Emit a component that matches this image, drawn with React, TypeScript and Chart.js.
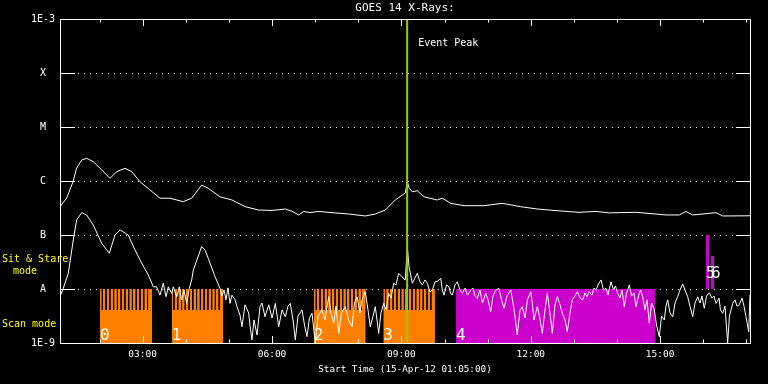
import React, { useEffect, useRef } from 'react';
import { Chart, registerables } from 'chart.js';

Chart.register(...registerables);

const MONO = "'DejaVu Sans Mono', monospace";

// ---- time axis (minutes since 15-Apr-12 01:05:00) ----
const startLabel = '15-Apr-12 01:05:00';
const startMinuteOfDay = 65;
const xMaxMinutes = 960;
const xTickMinutes = [115, 295, 475, 655, 835];

// ---- y axis ----
const yTickValues = [1e-9, 1e-8, 1e-7, 1e-6, 1e-5, 1e-4, 1e-3];
const yTickLabels = ['1E-9', 'A', 'B', 'C', 'M', 'X', '1E-3'];
const gridLevels = [1e-8, 1e-7, 1e-6, 1e-5, 1e-4];

// ---- long channel (1-8 A) ----
const longTimes = [
  0, 9.3, 18.1, 23.2, 30.2, 37.1, 46.3, 58,
  69.6, 78.9, 90.4, 99.8, 111.3, 125.2, 139.1, 153,
  171.5, 183.2, 197.1, 206.3, 222.6, 239.3, 257.8, 276.5,
  295, 313.5, 322.8, 332.1, 339.1, 347.8, 359.9, 378.4,
  401.7, 424.8, 438.7, 452.6, 466.5, 477.2, 480.4, 483.2,
  485.6, 490.2, 497.1, 506.4, 524.9, 531.9, 543.6, 562.1,
  589.9, 615.4, 641, 664.1, 687.3, 722.1, 745.7, 764.2,
  801.4, 843.1, 861.6, 870.9, 880.3, 912.7, 922, 960,
];
const longFlux = [
  3.34e-7, 4.84e-7, 9.7e-7, 1.74e-6, 2.45e-6, 2.63e-6, 2.28e-6, 1.6e-6,
  1.12e-6, 1.49e-6, 1.72e-6, 1.49e-6, 9.7e-7, 6.8e-7, 4.8e-7, 4.8e-7,
  4.14e-7, 4.8e-7, 8.4e-7, 7.3e-7, 5.1e-7, 4.45e-7, 3.34e-7, 2.9e-7,
  2.85e-7, 3.03e-7, 2.75e-7, 2.35e-7, 2.73e-7, 2.6e-7, 2.73e-7, 2.59e-7,
  2.45e-7, 2.25e-7, 2.45e-7, 2.9e-7, 4.45e-7, 5.6e-7, 6.0e-7, 9.7e-7,
  7.5e-7, 6.3e-7, 6.6e-7, 5.1e-7, 4.45e-7, 4.8e-7, 3.86e-7, 3.49e-7,
  3.49e-7, 3.86e-7, 3.34e-7, 3.03e-7, 2.85e-7, 2.63e-7, 2.73e-7, 2.57e-7,
  2.63e-7, 2.35e-7, 2.35e-7, 2.73e-7, 2.35e-7, 2.59e-7, 2.25e-7, 2.27e-7,
];

// ---- short channel (0.5-4 A) ----
const shortTimes = [
  0, 4.6, 11.5, 18.5, 23.2, 30.2, 37.1, 46.3, 58, 68.6,
  76.5, 83.5, 95, 104.3, 113.7, 122.9, 129.8, 134.5, 139.1, 143.7,
  147.5, 150.7, 155.4, 157.6, 162.4, 166, 169.3, 172.5, 176.3, 179.9,
  183.2, 185.5, 197.1, 201.7, 206.3, 215.7, 222.6, 225.4, 228.2, 230.9,
  233.7, 236.5, 239.3, 243.5, 246.3, 250.4, 253.2, 257.4, 262.5, 264.3,
  267.1, 269.9, 274.1, 278.3, 281, 285.2, 290.4, 295, 299.6, 304.3,
  308.9, 313.5, 317.2, 320.4, 324.2, 327.4, 331.1, 336.7, 340.2, 343.6,
  347.1, 350.6, 355.2, 359, 364.5, 368.7, 373.8, 377, 380.8, 384,
  387.8, 391.6, 396.9, 401.4, 406.3, 409.7, 413.2, 417.4, 420.2, 424.8,
  428.5, 431.7, 435.5, 438.7, 443.4, 446.6, 450.4, 453.6, 457.3, 460.5,
  464.3, 467.5, 471.2, 475.8, 480.4, 483.2, 485.6, 490.2, 493.9, 497.1,
  500.9, 504.1, 507.8, 511, 514.8, 518, 521.7, 525.9, 529.7, 531.9,
  534.3, 537.7, 541.2, 543.3, 545.8, 549.6, 552.8, 556.5, 559.7, 563.5,
  567, 571.4, 574.6, 577.4, 580.6, 584.3, 587.8, 592.3, 595.5, 599.2,
  602.4, 606.6, 610.8, 614.2, 617.7, 621.9, 627.1, 630.3, 633, 636.2,
  640, 643.2, 646.9, 650.4, 654.9, 657.1, 659.5, 664.1, 667.1, 671,
  674.8, 678, 681.7, 685, 688.7, 691.9, 695.7, 698.9, 702.6, 705.8,
  709.6, 712.8, 716.5, 719.7, 723.5, 727.2, 730.4, 733.2, 736.4, 740.1,
  742.9, 745.7, 749.2, 752.7, 756.2, 759.7, 762.4, 766.6, 770.1, 772.8,
  775.9, 779.1, 781.9, 785.1, 788.2, 792.1, 795.2, 798.6, 801.4, 804.9,
  807.6, 810.7, 813.9, 816.7, 819.9, 823, 826.9, 829.9, 833.8, 836.9,
  840.8, 843.1, 845.5, 848.7, 852.5, 855.7, 859.4, 862.6, 866.4, 869.6,
  873.3, 876.5, 880.3, 883.5, 887.2, 890.4, 893.2, 896.4, 899.5, 903.4,
  907.1, 909.9, 912.7, 916.9, 918.9, 922, 925.2, 928.9, 931.4, 935.9,
  939.1, 941.9, 945.1, 948.9, 951.7, 954.4, 958.2, 960,
];
const shortFlux = [
  7.2e-9, 1.03e-8, 1.95e-8, 8.1e-8, 1.9e-7, 2.59e-7, 2.35e-7, 1.53e-7, 7.0e-8, 4.6e-8,
  1.0e-7, 1.24e-7, 1.0e-7, 5.3e-8, 3.0e-8, 1.82e-8, 1.1e-8, 1.1e-8, 7.7e-9, 1.28e-8,
  7.2e-9, 1.1e-8, 8.3e-9, 1.1e-8, 7.2e-9, 1.1e-8, 6.3e-9, 9.6e-9, 5.4e-9, 1.03e-8,
  1.47e-8, 2.25e-8, 6.1e-8, 5.3e-8, 3.7e-8, 1.69e-8, 1.03e-8, 7.4e-9, 9.6e-9, 6.3e-9,
  1.05e-8, 5.4e-9, 7.7e-9, 6.3e-9, 4.7e-9, 3.3e-9, 2.0e-9, 5.1e-9, 3.6e-9, 2.15e-9,
  1.14e-9, 2.67e-9, 1.41e-9, 4.7e-9, 5.5e-9, 3.07e-9, 5.1e-9, 2.9e-9, 5.4e-9, 2.0e-9,
  4.1e-9, 3.07e-9, 4.8e-9, 5.4e-9, 2.67e-9, 1.14e-9, 3.15e-9, 4.1e-9, 2.15e-9, 1.31e-9,
  2.9e-9, 3.55e-9, 1e-9, 3.15e-9, 4.1e-9, 2.67e-9, 7.2e-9, 3.6e-9, 2.32e-9, 4.8e-9,
  1.51e-9, 3.6e-9, 4.7e-9, 2.67e-9, 2.0e-9, 5.5e-9, 7.2e-9, 3.6e-9, 6.3e-9, 8.9e-9,
  4.1e-9, 2.0e-9, 3.15e-9, 4.7e-9, 1.51e-9, 3.6e-9, 5.4e-9, 4.1e-9, 8.3e-9, 6.8e-9,
  1.28e-8, 1.19e-8, 1.95e-8, 1.69e-8, 1.47e-8, 6.1e-8, 2.59e-8, 1.28e-8, 1.6e-8, 1.95e-8,
  1.35e-8, 1.19e-8, 1.47e-8, 1.28e-8, 8.8e-9, 9.6e-9, 1.35e-8, 1.4e-8, 1.58e-8, 9.6e-9,
  7.7e-9, 1.19e-8, 1.1e-8, 8.4e-9, 7.7e-9, 1.19e-8, 1.36e-8, 9.6e-9, 8.3e-9, 1.04e-8,
  7.7e-9, 9.6e-9, 1.04e-8, 7.4e-9, 6.7e-9, 9.6e-9, 5.5e-9, 8.3e-9, 6.3e-9, 3.8e-9,
  7.4e-9, 9.6e-9, 1.03e-8, 6.3e-9, 4.4e-9, 7.4e-9, 9.6e-9, 5.5e-9, 3.15e-9, 1.41e-9,
  4.1e-9, 4.7e-9, 2.9e-9, 6.3e-9, 8.9e-9, 5.5e-9, 2.67e-9, 4.7e-9, 3.15e-9, 1.51e-9,
  4.1e-9, 8.3e-9, 3.6e-9, 1.51e-9, 5.1e-9, 7.2e-9, 5.1e-9, 3.55e-9, 2.67e-9, 1.62e-9,
  3.6e-9, 6.3e-9, 7.4e-9, 8.9e-9, 6.8e-9, 6.3e-9, 8.4e-9, 7.2e-9, 8.9e-9, 7.7e-9,
  1.04e-8, 9.6e-9, 1.24e-8, 1.47e-8, 9.6e-9, 1.03e-8, 7.7e-9, 1.36e-8, 9.6e-9, 1.14e-8,
  8.3e-9, 6.8e-9, 9.6e-9, 4.7e-9, 8.4e-9, 1.19e-8, 7.4e-9, 8.4e-9, 4.7e-9, 7.4e-9,
  9.6e-9, 7.2e-9, 4.1e-9, 6.3e-9, 2.32e-9, 5.5e-9, 4.1e-9, 2.15e-9, 1.31e-9, 3.15e-9,
  2.67e-9, 4.8e-9, 6.3e-9, 3.6e-9, 3.07e-9, 5.5e-9, 7.2e-9, 9.6e-9, 1.24e-8, 9.6e-9,
  7.2e-9, 4.8e-9, 3.07e-9, 5.5e-9, 7.2e-9, 5.5e-9, 7.4e-9, 4.4e-9, 7.4e-9, 8.5e-9,
  6.8e-9, 7.4e-9, 5.4e-9, 6.8e-9, 4.1e-9, 3.55e-9, 4.8e-9, 1e-9, 3.15e-9, 5.4e-9,
  6.3e-9, 4.8e-9, 5.1e-9, 6.8e-9, 4.8e-9, 3.07e-9, 1.62e-9, 7.7e-9,
];

// ---- observing blocks ----
const blockStarts = [55.7, 155.4, 353.4, 449.8, 551];
const blockEnds = [128, 227.2, 425.3, 521.7, 827.8];
const blockLabels = ['0', '1', '2', '3', '4'];
const blockColors = ['#ff8000', '#ff8000', '#ff8000', '#ff8000', '#cc00cc'];
const blockHasComb = [true, true, true, true, false];
const combOffsets = [3.2, 8.4, 13.7, 18.9, 24.2, 29.4, 34.6, 39.9, 45.1, 50.4, 55.6, 60.8, 66.1];
const combTopFlux = 1e-8;
const combBottomFlux = 4.1e-9;
const blockTopFlux = 1e-8;

const stareStarts = [898.8, 905.7];
const stareEnds = [903, 910];
const stareTops = [1e-7, 4.1e-8];
const stareLabels = ['5', '6'];

const eventPeakMinute = 483;

const fmtTime = (m: number) => {
  const t = Math.round(m + startMinuteOfDay);
  const h = Math.floor(t / 60) % 24;
  const mm = t % 60;
  return String(h).padStart(2, '0') + ':' + String(mm).padStart(2, '0');
};

const goesPlugin = {
  id: 'goesDecor',
  beforeDatasetsDraw(chart: any) {
    const { ctx, chartArea, scales } = chart;
    const { left, right } = chartArea;
    const y = scales.y;
    ctx.save();
    ctx.strokeStyle = '#ffffff';
    ctx.lineWidth = 1;
    ctx.setLineDash([1, 5]);
    gridLevels.forEach((v) => {
      const py = Math.round(y.getPixelForValue(v)) + 0.5;
      ctx.beginPath();
      ctx.moveTo(left + 18, py);
      ctx.lineTo(right - 15, py);
      ctx.stroke();
    });
    ctx.restore();
  },
  afterDatasetsDraw(chart: any) {
    const { ctx, chartArea, scales } = chart;
    const { left, right, top, bottom } = chartArea;
    const x = scales.x;
    const y = scales.y;
    ctx.save();
    ctx.strokeStyle = '#ffffff';
    ctx.lineWidth = 1;
    ctx.setLineDash([]);
    ctx.strokeRect(left + 0.5, top + 0.5, right - left, bottom - top);
    // y ticks inward
    gridLevels.forEach((v) => {
      const py = Math.round(y.getPixelForValue(v)) + 0.5;
      ctx.beginPath();
      ctx.moveTo(left, py);
      ctx.lineTo(left + 15, py);
      ctx.moveTo(right - 14, py);
      ctx.lineTo(right + 1, py);
      ctx.stroke();
    });
    // hourly x ticks
    for (let h = 2; h <= 17; h++) {
      const m = h * 60 - startMinuteOfDay;
      if (m <= 0 || m >= xMaxMinutes) continue;
      const px = Math.round(x.getPixelForValue(m)) + 0.5;
      const len = h % 3 === 0 ? 7 : 3.5;
      ctx.beginPath();
      ctx.moveTo(px, top);
      ctx.lineTo(px, top + len);
      ctx.moveTo(px, bottom);
      ctx.lineTo(px, bottom - len);
      ctx.stroke();
    }
    // block labels
    ctx.fillStyle = '#ffffff';
    ctx.font = `16px ${MONO}`;
    ctx.textAlign = 'left';
    ctx.textBaseline = 'alphabetic';
    blockStarts.forEach((s, i) => {
      ctx.fillText(blockLabels[i], x.getPixelForValue(s), bottom - 3);
    });
    stareStarts.forEach((s, i) => {
      ctx.fillText(stareLabels[i], x.getPixelForValue(s), y.getPixelForValue(blockTopFlux) - 11);
    });
    // event peak text
    ctx.font = `10px ${MONO}`;
    ctx.textBaseline = 'middle';
    ctx.fillText('Event Peak', x.getPixelForValue(eventPeakMinute) + 11, top + 24);
    // mode labels
    ctx.fillStyle = '#ffff00';
    ctx.fillText('Sit & Stare', 2, 259);
    ctx.fillText('mode', 13, 271);
    ctx.fillText('Scan mode', 2, 324);
    ctx.restore();
  },
};

export default function App() {
  const canvasRef = useRef<HTMLCanvasElement | null>(null);

  useEffect(() => {
    const canvas = canvasRef.current;
    if (!canvas) return;

    const datasets: any[] = [];
    blockStarts.forEach((s, i) => {
      datasets.push({
        data: [{ x: s, y: blockTopFlux }, { x: blockEnds[i], y: blockTopFlux }],
        fill: 'start',
        backgroundColor: blockColors[i],
        borderColor: 'rgba(0,0,0,0)',
        borderWidth: 0,
        pointRadius: 0,
        order: 6,
      });
    });
    const combData: any[] = [];
    blockStarts.forEach((s, i) => {
      if (!blockHasComb[i]) return;
      combOffsets.forEach((o) => {
        combData.push({ x: s + o, y: combTopFlux });
        combData.push({ x: s + o, y: combBottomFlux });
        combData.push({ x: s + o, y: null });
      });
    });
    datasets.push({
      data: combData,
      borderColor: '#000000',
      borderWidth: 1,
      pointRadius: 0,
      spanGaps: false,
      fill: false,
      order: 5,
    });
    stareStarts.forEach((s, i) => {
      datasets.push({
        data: [{ x: s, y: stareTops[i] }, { x: stareEnds[i], y: stareTops[i] }],
        fill: { value: blockTopFlux },
        backgroundColor: '#cc00cc',
        borderColor: 'rgba(0,0,0,0)',
        borderWidth: 0,
        pointRadius: 0,
        order: 6,
      });
    });
    datasets.push({
      label: 'GOES 14 1-8 A',
      data: longTimes.map((t, i) => ({ x: t, y: longFlux[i] })),
      borderColor: '#ffffff',
      borderWidth: 1,
      pointRadius: 0,
      fill: false,
      tension: 0,
      order: 2,
    });
    datasets.push({
      label: 'GOES 14 0.5-4 A',
      data: shortTimes.map((t, i) => ({ x: t, y: shortFlux[i] })),
      borderColor: '#ffffff',
      borderWidth: 1,
      pointRadius: 0,
      fill: false,
      tension: 0,
      order: 2,
    });
    datasets.push({
      label: 'Event Peak',
      data: [{ x: eventPeakMinute, y: 1e-9 }, { x: eventPeakMinute, y: 1e-3 }],
      borderColor: '#99cc00',
      borderWidth: 2,
      pointRadius: 0,
      fill: false,
      order: 0,
    });

    const chart = new Chart(canvas, {
      type: 'line',
      data: { datasets },
      plugins: [goesPlugin],
      options: {
        animation: false,
        responsive: true,
        maintainAspectRatio: false,
        layout: { padding: { left: 0, right: 18, top: 0, bottom: 0 } },
        plugins: {
          legend: { display: false },
          tooltip: { enabled: false },
          title: { display: false },
        },
        scales: {
          x: {
            type: 'linear',
            position: 'bottom',
            min: 0,
            max: xMaxMinutes,
            afterBuildTicks: (s: any) => {
              s.ticks = xTickMinutes.map((v) => ({ value: v }));
            },
            afterFit: (s: any) => {
              s.height = 41;
            },
            ticks: {
              color: '#ffffff',
              font: { family: MONO, size: 9.5 },
              padding: 6,
              autoSkip: false,
              maxRotation: 0,
              callback: (v: any) => fmtTime(Number(v)),
            },
            grid: { display: false, drawTicks: false },
            border: { display: false },
            title: {
              display: true,
              text: `Start Time (${startLabel})`,
              color: '#ffffff',
              font: { family: MONO, size: 9.3 },
              padding: { top: 0, bottom: 9 },
            },
          },
          xTop: {
            type: 'linear',
            axis: 'x',
            position: 'top',
            min: 0,
            max: xMaxMinutes,
            afterFit: (s: any) => {
              s.height = 19;
            },
            ticks: { display: false },
            grid: { display: false, drawTicks: false },
            border: { display: false },
            title: {
              display: true,
              text: 'GOES 14 X-Rays:',
              color: '#ffffff',
              font: { family: MONO, size: 11 },
              padding: { top: 1.5, bottom: 0 },
            },
          },
          y: {
            type: 'logarithmic',
            min: 1e-9,
            max: 1e-3,
            afterBuildTicks: (s: any) => {
              s.ticks = yTickValues.map((v) => ({ value: v }));
            },
            afterFit: (s: any) => {
              s.width = 60;
            },
            ticks: {
              color: '#ffffff',
              font: { family: MONO, size: 10 },
              padding: 5,
              crossAlign: 'center',
              autoSkip: false,
              callback: (_v: any, i: number) => yTickLabels[i],
            },
            grid: { display: false, drawTicks: false },
            border: { display: false },
          },
        },
      } as any,
    });

    return () => chart.destroy();
  }, []);

  return (
    <div
      style={{
        position: 'fixed',
        left: 0,
        top: 0,
        width: 768,
        height: 384,
        background: '#000000',
      }}
    >
      <canvas ref={canvasRef} />
    </div>
  );
}
